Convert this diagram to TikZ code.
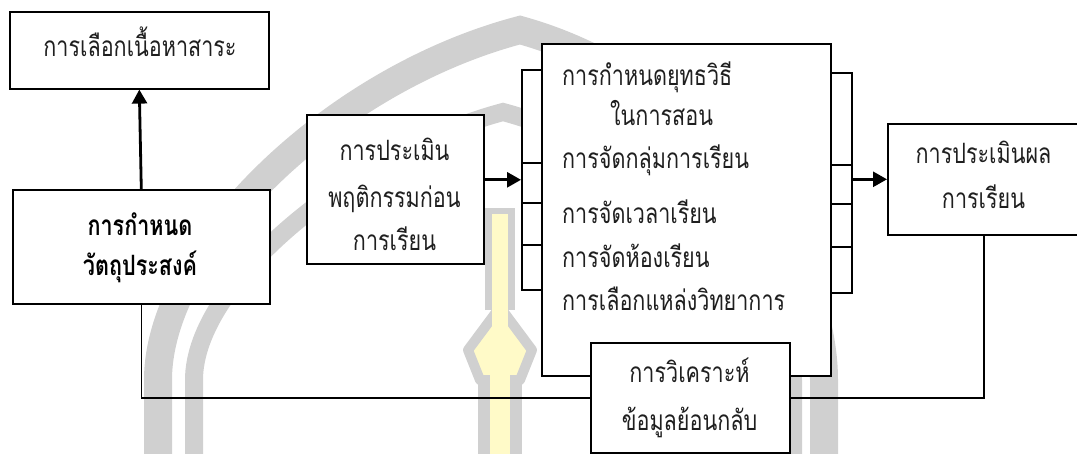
\documentclass[tikz,border=0pt]{standalone}
\usepackage{fontspec}
\newfontfamily\thai[Script=Thai,FakeStretch=0.77]{Loma}
\usetikzlibrary{arrows.meta}
\definecolor{wmgray}{RGB}{208,208,208}
\definecolor{wmyellow}{RGB}{255,250,200}
\begin{document}
\begin{tikzpicture}[x=1pt,y=-1pt,
  box/.style={draw=black, line width=1.6pt, fill=white, inner sep=0pt, anchor=north west},
  txt/.style={anchor=base, inner sep=0pt, text=black!88, font=\thai\fontsize{28}{32}\selectfont},
  txtl/.style={txt, anchor=base west},
  txtb/.style={txt, text=black, font=\thai\bfseries\fontsize{28}{32}\selectfont},
  arr/.style={line width=2.8pt, -{Triangle[length=14pt,width=15pt]}},
  fbl/.style={line width=1.5pt},
  wm/.style={draw=wmgray, line cap=butt}]
\useasboundingbox (0,0) rectangle (1077,453);
% watermark
\draw[wm, line width=28pt] (158,470) -- (158,380) .. controls (158,250) and (330,80) .. (520,30) .. controls (700,80) and (824,250) .. (824,380) -- (824,470);
\draw[wm, line width=18pt] (194,470) -- (194,380) .. controls (194,280) and (360,150) .. (503,112) .. controls (646,150) and (793,280) .. (793,380) -- (793,470);
\draw[wm, line width=30pt] (500,310) -- (500,208);
\draw[wm, line width=44pt] (500,470) -- (500,360);
\draw[wm, line width=10pt, fill=wmyellow, line join=round] (500,307) -- (532,350) -- (520,380) -- (480,380) -- (468,350) -- cycle;
\draw[draw=wmyellow, line width=16pt] (500,330) -- (500,214);
\draw[draw=wmyellow, line width=20pt] (500,470) -- (500,360);
% boxes
\node[box, minimum width=259pt, minimum height=77pt] (sel) at (9,11) {};
\node[box, minimum width=257pt, minimum height=114pt] (obj) at (12,189) {};
\node[box, minimum width=177pt, minimum height=149pt] (pre) at (306,114) {};
\node[box, minimum width=289pt, minimum height=332pt] (main) at (541,43) {};
\node[box, minimum width=20pt, minimum height=220pt] (lbr) at (521,69) {};
\node[box, minimum width=21pt, minimum height=220pt] (rbr) at (830,72) {};
\node[box, minimum width=192pt, minimum height=111pt] (eval) at (887,123) {};
% bracket dividers
\foreach \yy in {163,203,245} \draw[line width=1.6pt] (lbr.west |- 0,\yy) -- (lbr.east |- 0,\yy);
\foreach \yy in {165,204,247} \draw[line width=1.6pt] (rbr.west |- 0,\yy) -- (rbr.east |- 0,\yy);
% connectors
\draw[arr] (obj.north) -- (sel.south);
\coordinate (a1) at ([yshift=9.5pt]pre.east);
\draw[arr] (a1) -- (a1 -| lbr.west);
\draw[arr] (eval.west -| rbr.east) -- (eval.west);
\node[box, minimum width=199pt, minimum height=110pt] (fb) at (590,342) {};
\draw[fbl] (obj.south) |- (fb.west);
\draw[fbl] (fb.east) -| (eval.south);
% texts
\node[txt] (t1) at (140,56) {การเลือกเนื้อหาสาระ};
\node[txtb] (t2a) at (140,235) {การกำหนด};
\node[txtb] (t2b) at (140,275) {วัตถุประสงค์};
\node[txt] (t3a) at (394.5,160) {การประเมิน};
\node[txt] (t3b) at (394.5,207) {พฤติกรรมก่อน};
\node[txt] (t3c) at (394.5,250) {การเรียน};
\node[txtl] (m1) at (562,85) {การกำหนดยุทธวิธี};
\node[txtl] (m2) at (610,125) {ในการสอน};
\node[txtl] (m3) at (562,168) {การจัดกลุ่มการเรียน};
\node[txtl] (m4) at (562,223) {การจัดเวลาเรียน};
\node[txtl] (m5) at (562,267) {การจัดห้องเรียน};
\node[txtl] (m6) at (562,310) {การเลือกแหล่งวิทยาการ};
\node[txt] (e1) at (983.5,163) {การประเมินผล};
\node[txt] (e2) at (983.5,208) {การเรียน};
\node[txt] (f1) at (689.5,382) {การวิเคราะห์};
\node[txt] (f2) at (689.5,430) {ข้อมูลย้อนกลับ};
\end{tikzpicture}
\end{document}
